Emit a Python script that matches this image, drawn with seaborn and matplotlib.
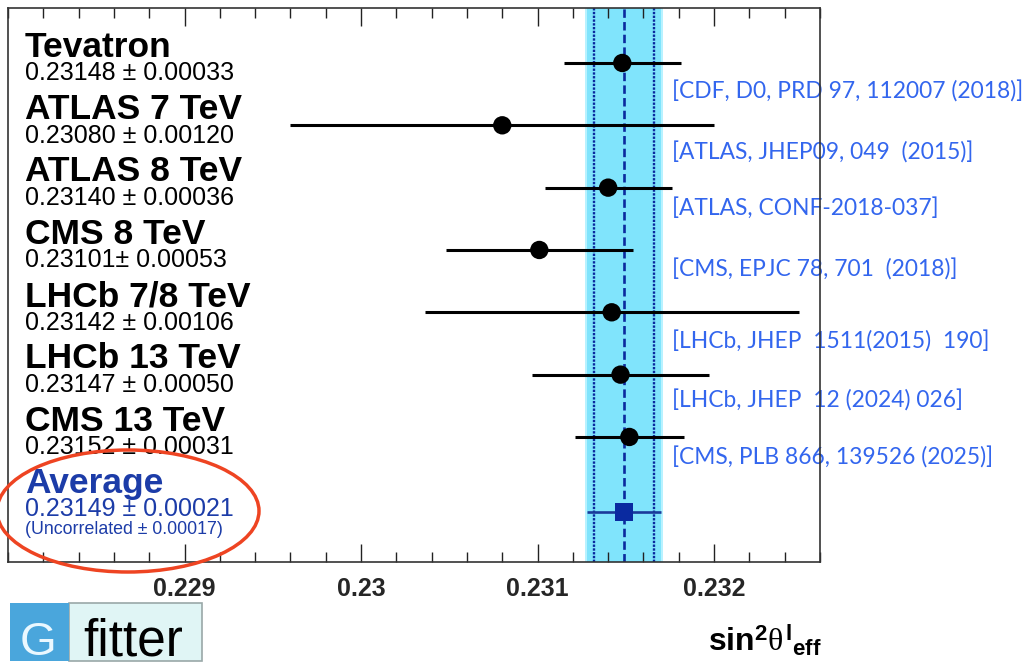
import matplotlib
matplotlib.use("Agg")
import matplotlib.pyplot as plt
import matplotlib.patches as mpatches
import matplotlib.transforms as mtransforms
from matplotlib.ticker import FixedLocator, MultipleLocator
import seaborn as sns
import pandas as pd

# ---------------- data ----------------
names = ["Tevatron", "ATLAS 7 TeV", "ATLAS 8 TeV", "CMS 8 TeV",
         "LHCb 7/8 TeV", "LHCb 13 TeV", "CMS 13 TeV"]
values = [0.23148, 0.23080, 0.23140, 0.23101, 0.23142, 0.23147, 0.23152]
errors = [0.00033, 0.00120, 0.00036, 0.00053, 0.00106, 0.00050, 0.00031]
value_labels = ["0.23148 ± 0.00033", "0.23080 ± 0.00120", "0.23140 ± 0.00036",
                "0.23101± 0.00053", "0.23142 ± 0.00106", "0.23147 ± 0.00050",
                "0.23152 ± 0.00031"]
refs = ["[CDF, D0, PRD 97, 112007 (2018)]",
        "[ATLAS, JHEP09, 049  (2015)]",
        "[ATLAS, CONF-2018-037]",
        "[CMS, EPJC 78, 701  (2018)]",
        "[LHCb, JHEP  1511(2015)  190]",
        "[LHCb, JHEP  12 (2024) 026]",
        "[CMS, PLB 866, 139526 (2025)]"]
avg_name = "Average"
avg_value = 0.23149
avg_error = 0.00021
avg_uncorr = 0.00017
avg_label = "0.23149 ± 0.00021"
avg_sub = "(Uncorrelated ± 0.00017)"
x_ticks = [0.229, 0.230, 0.231, 0.232]
x_tick_labels = ["0.229", "0.23", "0.231", "0.232"]
x_title = r"$\mathrm{sin}^{\mathrm{2}}\theta^{\mathrm{l}}{}_{\mathrm{eff}}$"

# ---------------- layout ----------------
rows = list(range(len(names)))
avg_row = 7.2
ref_offsets = [0.465, 0.444, 0.326, 0.321, 0.476, 0.422, 0.337]

df = pd.DataFrame({"name": names, "value": values, "error": errors, "row": rows})
df_avg = pd.DataFrame({"value": [avg_value], "row": [avg_row]})

sns.set_style("white")
plt.rcParams["font.family"] = ["Liberation Sans", "DejaVu Sans"]
plt.rcParams["mathtext.fontset"] = "custom"
plt.rcParams["mathtext.rm"] = "Liberation Sans:bold"
plt.rcParams["mathtext.it"] = "Liberation Serif"
plt.rcParams["mathtext.bf"] = "Liberation Sans:bold"

W, H = 1026, 665
fig = plt.figure(figsize=(W / 100, H / 100), dpi=100)
ax = fig.add_axes([8 / W, 1 - 562 / H, 812 / W, 554 / H])
ax.set_xlim(0.228, 0.2326)
ax.set_ylim(8.006, -0.882)

# average band and lines
ax.axvspan(avg_value - avg_error - 0.000012, avg_value + avg_error + 0.000012,
           color="#b8f2ff", lw=0, zorder=0)
ax.axvspan(avg_value - avg_error, avg_value + avg_error, color="#80e4fc", lw=0, zorder=0.5)
ax.axvline(avg_value, color="#0b2a9e", lw=1.9, ls=(0, (3.2, 1.6)), zorder=1)
for s in (-1, 1):
    ax.axvline(avg_value + s * avg_uncorr, color="#0b2a9e", lw=1.7,
               ls=(0, (1.0, 0.6)), zorder=1)

# measurements
ax.hlines(df["row"], df["value"] - df["error"], df["value"] + df["error"],
          color="black", lw=2.2, zorder=2)
sns.scatterplot(data=df, x="value", y="row", ax=ax, color="black", s=175,
                marker="o", edgecolor="none", zorder=3, legend=False)

# average
ax.hlines([avg_row], [avg_value - avg_error], [avg_value + avg_error],
          color="#1a3a9a", lw=1.9, zorder=2)
sns.scatterplot(data=df_avg, x="value", y="row", ax=ax, color="#0a2aa0", s=175,
                marker="s", edgecolor="none", zorder=3, legend=False)

# text labels
trans = mtransforms.blended_transform_factory(ax.transAxes, ax.transData)
xl = 17 / 812
xr = 664 / 812
for r, n, vl, ref, off in zip(rows, names, value_labels, refs, ref_offsets):
    ax.text(xl, r - 0.1, n, transform=trans, fontsize=25.5, fontweight="bold",
            va="baseline", ha="left", color="black")
    ax.text(xl, r + 0.28, vl, transform=trans, fontsize=18,
            va="baseline", ha="left", color="black")
    ax.text(xr, r + off, ref, transform=trans, fontsize=16.4, family=["Lato", "DejaVu Sans"],
            va="center", ha="left", color="#3366ee", clip_on=False, zorder=0.8)

blue = "#1c3ca8"
ax.text(xl, avg_row - 0.305, avg_name, transform=trans, fontsize=25.5, fontweight="bold",
        va="baseline", ha="left", color=blue)
ax.text(xl, avg_row + 0.07, avg_label, transform=trans, fontsize=18,
        va="baseline", ha="left", color=blue)
ax.text(xl, avg_row + 0.36, avg_sub, transform=trans, fontsize=12.8,
        va="baseline", ha="left", color=blue)

# axes styling
ax.set_xlabel("")
ax.set_ylabel("")
ax.set_yticks([])
ax.xaxis.set_major_locator(FixedLocator(x_ticks))
ax.xaxis.set_minor_locator(MultipleLocator(0.0002))
ax.set_xticklabels(x_tick_labels, fontsize=18, fontweight="bold")
ax.tick_params(axis="x", which="both", direction="in", top=True, bottom=True,
               color="#222222", width=1.0)
ax.tick_params(axis="x", which="major", length=13, pad=11)
ax.tick_params(axis="x", which="minor", length=7.2)
for sp in ax.spines.values():
    sp.set_color("#333333")
    sp.set_linewidth(1.2)
    sp.set_zorder(5)

# x title
fig.text(822 / W, 1 - 652 / H, x_title, fontsize=23, ha="right", va="baseline",
         color="black")

# red ellipse around average
ell = mpatches.Ellipse((128 / W, 1 - 511 / H), 262 / W, 122 / H,
                       transform=fig.transFigure, fill=False, ec="#ee4422", lw=2.5,
                       zorder=10)
fig.patches.append(ell)

# Gfitter logo
fig.patches.append(mpatches.Rectangle((69 / W, 1 - 661 / H), 133 / W, 58 / H,
                                      transform=fig.transFigure, fc="#e0f5f5",
                                      ec="#9aa8a8", lw=1.2))
fig.patches.append(mpatches.Rectangle((10 / W, 1 - 661 / H), 59 / W, 58 / H,
                                      transform=fig.transFigure, fc="#4aa6dc",
                                      ec="none", lw=0))
fig.text(38 / W, 1 - 655 / H, "G", fontsize=34, ha="center", va="baseline",
         color="#eaf8ff")
fig.text(83 / W, 1 - 656 / H, "fitter", fontsize=37, ha="left", va="baseline",
         color="black")

fig.savefig("out.png", dpi=100)
